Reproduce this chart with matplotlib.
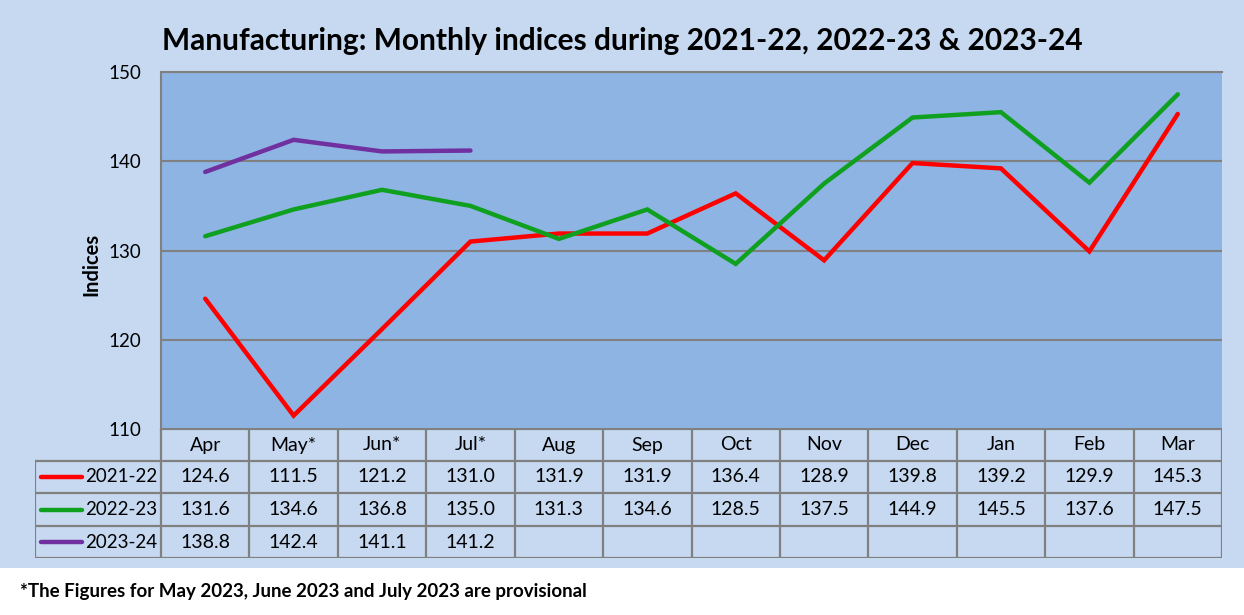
import numpy as np
import matplotlib.pyplot as plt
from matplotlib.lines import Line2D

months = ["Apr", "May*", "Jun*", "Jul*", "Aug", "Sep", "Oct", "Nov", "Dec", "Jan", "Feb", "Mar"]
years = ["2021-22", "2022-23", "2023-24"]
idx_2021 = [124.6, 111.5, 121.2, 131.0, 131.9, 131.9, 136.4, 128.9, 139.8, 139.2, 129.9, 145.3]
idx_2022 = [131.6, 134.6, 136.8, 135.0, 131.3, 134.6, 128.5, 137.5, 144.9, 145.5, 137.6, 147.5]
idx_2023 = [138.8, 142.4, 141.1, 141.2]
colors = ["#FF0000", "#10A020", "#7030A0"]
yticks = [110, 120, 130, 140, 150]

W, H = 1244, 615
plt.rcParams['font.family'] = ['Lato', 'DejaVu Sans']

fig = plt.figure(figsize=(W / 100, H / 100), dpi=100)
fig.patch.set_facecolor("white")

# light blue chart background (everything above the footnote)
bg = fig.add_axes([0, (H - 568) / H, 1, 568 / H])
bg.set_facecolor("#C6D9F1")
bg.set_xticks([])
bg.set_yticks([])
for s in bg.spines.values():
    s.set_visible(False)
bg.set_zorder(-5)

# plot area in pixels
x0, x1, y0, y1 = 161, 1222, 72, 429
ax = fig.add_axes([x0 / W, (H - y1) / H, (x1 - x0) / W, (y1 - y0) / H])
ax.set_facecolor("#8EB4E3")
series = [idx_2021, idx_2022, idx_2023]
for vals, c in zip(series, colors):
    ax.plot(np.arange(len(vals)), vals, color=c, lw=3.2, solid_capstyle="round", solid_joinstyle="miter")
ax.set_xlim(-0.5, 11.5)
ax.set_ylim(110, 150)
ax.set_yticks(yticks)
ax.set_xticks([])
ax.tick_params(axis="y", length=0, labelsize=13.5, pad=14)
ax.grid(axis="y", color="#808080", lw=1.5)
ax.set_axisbelow(True)
for k in ["right", "bottom"]:
    ax.spines[k].set_visible(False)
for k in ["left", "top"]:
    ax.spines[k].set_color("#808080")
    ax.spines[k].set_linewidth(1.5)
ax.set_ylabel("Indices", fontsize=14.5, fontweight="bold")
ax.yaxis.set_label_coords((101 - x0) / (x1 - x0), 0.46)

# data table below the plot, drawn in pixel coordinates
tx0, ty1 = 35, 558
tab = fig.add_axes([tx0 / W, (H - ty1) / H, (x1 - tx0) / W, (ty1 - y1) / H])
tab.set_xlim(tx0, x1)
tab.set_ylim(ty1, y1)
tab.axis("off")
cw = (x1 - x0) / len(months)
row_edges = [429, 461, 493, 526, 558]
gc = "#808080"
lw = 1.6
# horizontal lines
tab.add_line(Line2D([x0, x1], [row_edges[0]] * 2, color=gc, lw=lw))
for ry in row_edges[1:]:
    tab.add_line(Line2D([tx0, x1], [ry] * 2, color=gc, lw=lw))
# vertical lines
for i in range(len(months) + 1):
    xx = x0 + i * cw
    tab.add_line(Line2D([xx, xx], [row_edges[0], row_edges[-1]], color=gc, lw=lw))
tab.add_line(Line2D([tx0, tx0], [row_edges[1], row_edges[-1]], color=gc, lw=lw))

for i, m in enumerate(months):
    tab.text(x0 + (i + 0.5) * cw, (row_edges[0] + row_edges[1]) / 2, m,
             ha="center", va="center", fontsize=14)
for r, (yr, vals, c) in enumerate(zip(years, series, colors)):
    cy = (row_edges[r + 1] + row_edges[r + 2]) / 2
    tab.add_line(Line2D([41, 82], [cy, cy], color=c, lw=3.2, solid_capstyle="round"))
    tab.text(85, cy, yr, ha="left", va="center", fontsize=13.5)
    for i, v in enumerate(vals):
        tab.text(x0 + (i + 0.5) * cw, cy, f"{v:.1f}", ha="center", va="center", fontsize=14)

fig.text(622 / W, 1 - 41 / H, "Manufacturing: Monthly indices during 2021-22, 2022-23 & 2023-24",
         ha="center", va="center", fontsize=21.5, fontweight="bold")
fig.text(20 / W, 1 - 591 / H, "*The Figures for May 2023, June 2023 and July 2023 are provisional",
         ha="left", va="center", fontsize=13.5, fontweight="bold")

fig.savefig("out.png", dpi=100, facecolor=fig.get_facecolor())
